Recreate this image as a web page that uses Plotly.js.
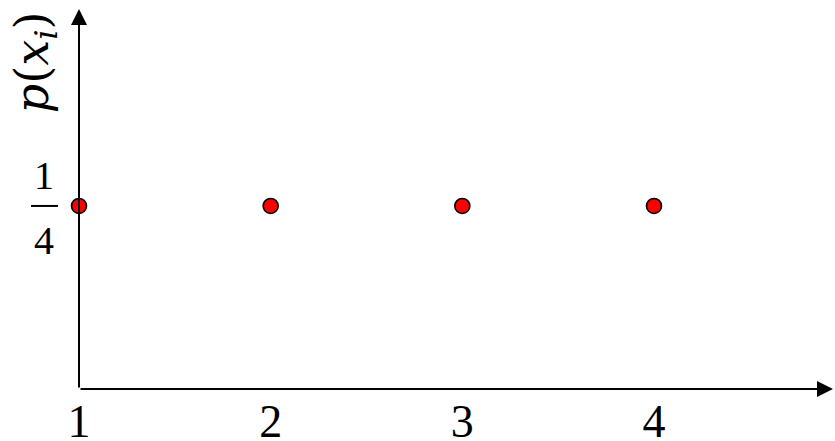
<!DOCTYPE html>
<html>
<head>
<meta charset="utf-8">
<script src="https://cdn.plot.ly/plotly-3.0.1.min.js"></script>
<style>html,body{margin:0;padding:0;background:#fff;}#chart{width:835px;height:441px;}</style>
</head>
<body>
<div id="chart"></div>
<script>
// Data
const xValues = [1, 2, 3, 4];
const pValues = [0.25, 0.25, 0.25, 0.25];
const xTickLabels = ['1', '2', '3', '4'];
const yNumerator = '1';
const yDenominator = '4';
const yTitle = '<i>p</i>(<i>x<sub>i</sub></i>)';

const serif = 'Liberation Serif, DejaVu Serif, serif';
const titleFont = 'DejaVu Serif, serif';

const trace = {
  x: xValues,
  y: pValues,
  type: 'scatter',
  mode: 'markers',
  cliponaxis: false,
  marker: {size: 15, color: '#ff0000', line: {color: '#000', width: 1.6}},
  hoverinfo: 'skip'
};

const layout = {
  width: 835, height: 441,
  margin: {l: 79, r: 2, t: 9, b: 52},
  paper_bgcolor: '#fff', plot_bgcolor: '#fff',
  showlegend: false,
  xaxis: {
    range: [1, 4.934], showgrid: false, zeroline: false, showline: false,
    tickmode: 'array', tickvals: xValues, ticktext: xTickLabels,
    ticks: '', ticklabelstandoff: 1,
    tickfont: {family: serif, size: 46, color: '#000'}
  },
  yaxis: {
    range: [0, 0.519], showgrid: false, zeroline: false, showline: false,
    showticklabels: false, ticks: ''
  },
  annotations: [
    // y axis arrow
    {xref: 'x', yref: 'paper', x: 1, y: 1, ax: 0, ay: 380, axref: 'pixel', ayref: 'pixel',
     text: '', showarrow: true, arrowhead: 2, arrowsize: 1.6, arrowwidth: 2, arrowcolor: '#000', standoff: 0, startstandoff: 0},
    // x axis arrow
    {xref: 'paper', yref: 'y', x: 1, y: 0, ax: -754, ay: 0, axref: 'pixel', ayref: 'pixel',
     text: '', showarrow: true, arrowhead: 2, arrowsize: 1.6, arrowwidth: 2, arrowcolor: '#000', standoff: 0, startstandoff: 0},
    // y tick fraction
    {xref: 'paper', yref: 'y', x: -0.0464, y: pValues[0], yshift: 30, xanchor: 'center', yanchor: 'middle',
     text: yNumerator, showarrow: false, font: {family: serif, size: 40, color: '#000'}},
    {xref: 'paper', yref: 'y', x: -0.0464, y: pValues[0], yshift: -35, xanchor: 'center', yanchor: 'middle',
     text: yDenominator, showarrow: false, font: {family: serif, size: 40, color: '#000'}},
    // y title
    {xref: 'paper', yref: 'paper', x: -0.0584, y: 0.86, xanchor: 'center', yanchor: 'middle',
     text: yTitle, textangle: -90, showarrow: false, font: {family: titleFont, size: 46, color: '#000'}}
  ],
  shapes: [
    {type: 'line', xref: 'paper', yref: 'y', x0: -0.0637, x1: -0.0279, y0: pValues[0], y1: pValues[0],
     line: {color: '#000', width: 2}}
  ]
};

Plotly.newPlot('chart', [trace], layout, {displayModeBar: false, staticPlot: true});
</script>
</body>
</html>
